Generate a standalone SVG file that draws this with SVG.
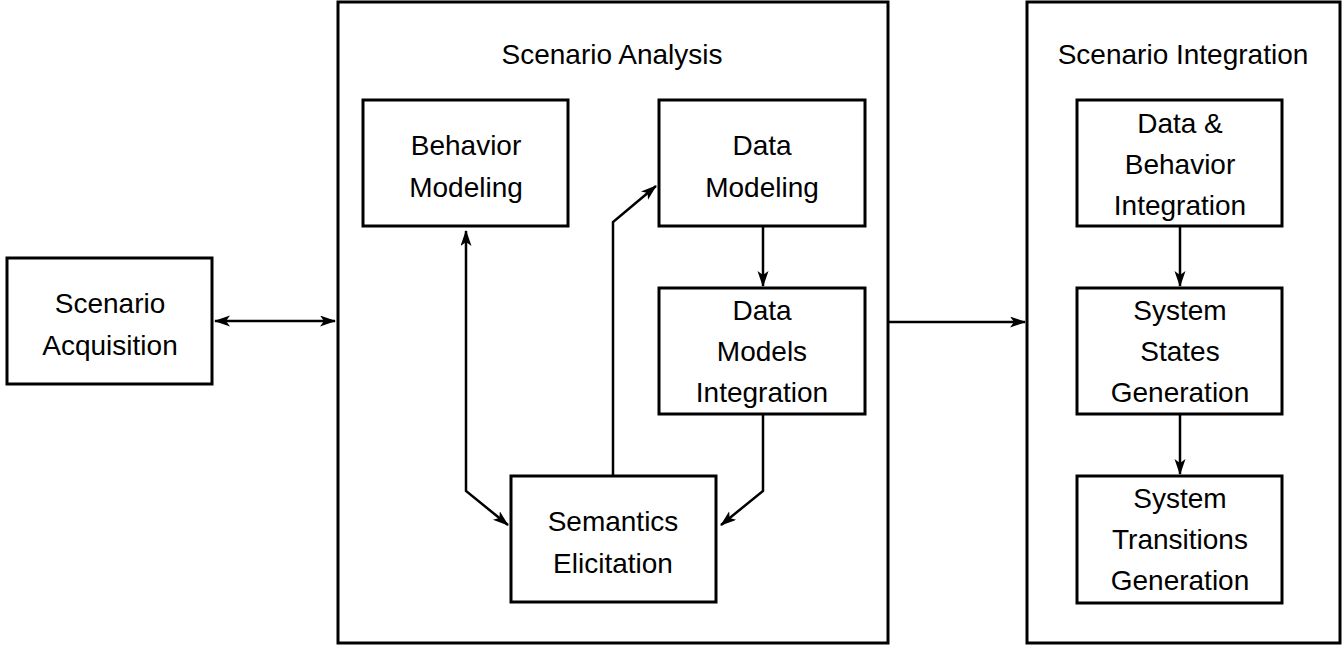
<svg xmlns="http://www.w3.org/2000/svg" width="1344" height="646" viewBox="0 0 1344 646">
  <style>
    .frame { fill: #fff; stroke: #000; stroke-width: 3; }
    .box { fill: #fff; stroke: #000; stroke-width: 3; }
    .lbl { font-family: "Liberation Sans", Arial, sans-serif; font-size: 28px; fill: #000; text-anchor: middle; }
    .edge { fill: none; stroke: #000; stroke-width: 2.5; stroke-linejoin: miter; }
  </style>
  <defs>
    <marker id="arrow" markerUnits="userSpaceOnUse" markerWidth="16" markerHeight="12" refX="15" refY="5.5" orient="auto-start-reverse">
      <path d="M0,0 L16,5.5 L0,11 L4,5.5 Z" fill="#000"/>
    </marker>
  </defs>

  <rect width="1344" height="646" fill="#fff"/>

  <!-- containers -->
  <g id="scenario-analysis">
    <rect class="frame" x="338" y="2" width="550" height="641"/>
    <text class="lbl" x="612" y="64">Scenario Analysis</text>
  </g>
  <g id="scenario-integration">
    <rect class="frame" x="1027" y="2" width="313" height="641"/>
    <text class="lbl" x="1183" y="64">Scenario Integration</text>
  </g>

  <!-- nodes -->
  <g id="scenario-acquisition">
    <rect class="box" x="7" y="258" width="205" height="126"/>
    <text class="lbl" x="110" y="313">Scenario</text>
    <text class="lbl" x="110" y="355">Acquisition</text>
  </g>
  <g id="behavior-modeling">
    <rect class="box" x="363" y="100" width="205" height="126"/>
    <text class="lbl" x="466" y="155">Behavior</text>
    <text class="lbl" x="466" y="197">Modeling</text>
  </g>
  <g id="data-modeling">
    <rect class="box" x="659" y="100" width="206" height="126"/>
    <text class="lbl" x="762" y="155">Data</text>
    <text class="lbl" x="762" y="197">Modeling</text>
  </g>
  <g id="data-models-integration">
    <rect class="box" x="659" y="288" width="206" height="126"/>
    <text class="lbl" x="762" y="320">Data</text>
    <text class="lbl" x="762" y="361">Models</text>
    <text class="lbl" x="762" y="402">Integration</text>
  </g>
  <g id="semantics-elicitation">
    <rect class="box" x="511" y="476" width="205" height="126"/>
    <text class="lbl" x="613" y="531">Semantics</text>
    <text class="lbl" x="613" y="573">Elicitation</text>
  </g>
  <g id="data-behavior-integration">
    <rect class="box" x="1077" y="100" width="205" height="126"/>
    <text class="lbl" x="1180" y="133">Data &amp;</text>
    <text class="lbl" x="1180" y="174">Behavior</text>
    <text class="lbl" x="1180" y="215">Integration</text>
  </g>
  <g id="system-states-generation">
    <rect class="box" x="1077" y="288" width="205" height="126"/>
    <text class="lbl" x="1180" y="320">System</text>
    <text class="lbl" x="1180" y="361">States</text>
    <text class="lbl" x="1180" y="402">Generation</text>
  </g>
  <g id="system-transitions-generation">
    <rect class="box" x="1077" y="476" width="205" height="127"/>
    <text class="lbl" x="1180" y="508">System</text>
    <text class="lbl" x="1180" y="549">Transitions</text>
    <text class="lbl" x="1180" y="590">Generation</text>
  </g>

  <!-- connectors -->
  <g id="connectors">
    <path class="edge" d="M215,321 L335,321" marker-start="url(#arrow)" marker-end="url(#arrow)"/>
    <path class="edge" d="M466,231 L466,491 L508,525" marker-start="url(#arrow)" marker-end="url(#arrow)"/>
    <path class="edge" d="M613,476 L613,222 L656,186" marker-end="url(#arrow)"/>
    <path class="edge" d="M763,226 L763,286" marker-end="url(#arrow)"/>
    <path class="edge" d="M763,414 L763,491 L721,525" marker-end="url(#arrow)"/>
    <path class="edge" d="M888,322 L1025,322" marker-end="url(#arrow)"/>
    <path class="edge" d="M1180,226 L1180,286" marker-end="url(#arrow)"/>
    <path class="edge" d="M1180,414 L1180,474" marker-end="url(#arrow)"/>
  </g>
</svg>
